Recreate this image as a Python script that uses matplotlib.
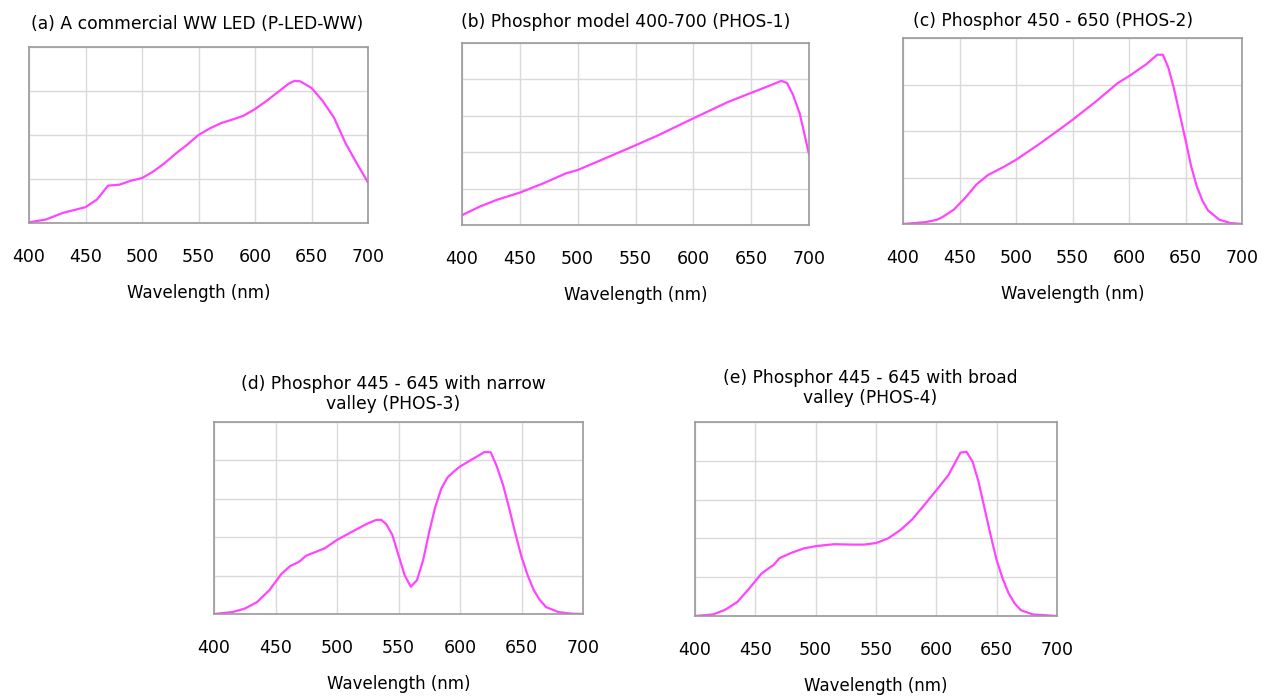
import matplotlib
matplotlib.use("Agg")
import matplotlib.pyplot as plt

# ── 데이터 ──
wl_a = [400, 415, 430, 450, 460, 470, 480, 490, 500, 510, 520, 530, 540, 550,
        560, 570, 580, 590, 600, 610, 620, 630, 635, 640, 650, 660, 670, 680, 690, 700]
sp_a = [0.015, 0.08, 0.23, 0.36, 0.53, 0.85, 0.87, 0.96, 1.02, 1.17, 1.36, 1.58, 1.78, 2.0,
        2.15, 2.27, 2.35, 2.44, 2.59, 2.77, 2.97, 3.17, 3.23, 3.22, 3.07, 2.77, 2.39, 1.82, 1.36, 0.92]

wl_b = [400, 415, 430, 450, 470, 490, 500, 520, 550, 570, 600, 630, 650, 670, 676, 681, 686, 692, 700]
sp_b = [0.27, 0.50, 0.69, 0.89, 1.14, 1.42, 1.51, 1.78, 2.19, 2.47, 2.93, 3.38, 3.63, 3.88, 3.96, 3.90, 3.59, 3.06, 1.95]

wl_c = [400, 420, 430, 435, 445, 455, 465, 475, 490, 500, 520, 540, 550, 570, 590, 600, 615,
        625, 630, 635, 640, 645, 650, 655, 660, 665, 670, 680, 690, 700]
sp_c = [0.0, 0.04, 0.09, 0.15, 0.31, 0.56, 0.85, 1.05, 1.24, 1.38, 1.71, 2.06, 2.24, 2.62, 3.03, 3.18, 3.43,
        3.64, 3.64, 3.35, 2.89, 2.35, 1.81, 1.24, 0.81, 0.50, 0.29, 0.09, 0.02, 0.0]

wl_d = [400, 415, 425, 435, 445, 455, 462, 468, 470, 475, 490, 500, 515, 525, 532, 536, 540, 545,
        550, 555, 560, 565, 570, 575, 580, 585, 590, 595, 600, 610, 620, 625, 630, 635, 640, 645,
        650, 655, 660, 665, 670, 680, 690, 700]
sp_d = [0.0, 0.05, 0.14, 0.31, 0.62, 1.05, 1.25, 1.34, 1.38, 1.52, 1.71, 1.93, 2.19, 2.36, 2.45, 2.45, 2.34, 2.06,
        1.53, 1.01, 0.71, 0.88, 1.40, 2.14, 2.80, 3.28, 3.56, 3.71, 3.84, 4.03, 4.22, 4.21, 3.84, 3.36, 2.75, 2.10,
        1.49, 1.01, 0.62, 0.36, 0.18, 0.05, 0.01, 0.0]

wl_e = [400, 415, 425, 435, 445, 455, 462, 465, 470, 480, 490, 500, 515, 530, 540, 550, 560, 570,
        580, 590, 600, 610, 620, 625, 630, 635, 640, 645, 650, 655, 660, 665, 670, 680, 700]
sp_e = [0.0, 0.04, 0.16, 0.36, 0.71, 1.09, 1.25, 1.31, 1.49, 1.63, 1.74, 1.80, 1.85, 1.84, 1.84, 1.88, 2.00, 2.21,
        2.49, 2.86, 3.24, 3.63, 4.21, 4.23, 3.98, 3.46, 2.77, 2.08, 1.44, 0.96, 0.58, 0.32, 0.15, 0.04, 0.0]

x_ticks = [400, 450, 500, 550, 600, 650, 700]

titles = [
    "(a) A commercial WW LED (P-LED-WW)",
    "(b) Phosphor model 400-700 (PHOS-1)",
    "(c) Phosphor 450 - 650 (PHOS-2)",
    "(d) Phosphor 445 - 645 with narrow\nvalley (PHOS-3)",
    "(e) Phosphor 445 - 645 with broad\nvalley (PHOS-4)",
]

W, H = 1270, 696
LINE = "#ff45ff"

# 축 위치 (픽셀: left, top, right, bottom), y 눈금 개수, 제목 중심
panels = [
    (wl_a, sp_a, (29, 47, 368, 223), 4, (197, 24)),
    (wl_b, sp_b, (462, 43, 809, 225), 5, (626, 22)),
    (wl_c, sp_c, (903, 38, 1242, 224), 4, (1053, 21)),
    (wl_d, sp_d, (214, 422, 583, 614), 5, (393, 394)),
    (wl_e, sp_e, (695, 422, 1057, 616), 5, (870, 388)),
]

fig = plt.figure(figsize=(W / 100, H / 100), dpi=100)
fig.patch.set_facecolor("white")

for (wl, sp, (l, t, r, b), ny, (tx, ty)), title in zip(panels, titles):
    ax = fig.add_axes([l / W, 1 - b / H, (r - l) / W, (b - t) / H])
    ax.plot(wl, sp, color=LINE, linewidth=1.6)
    ax.set_xlim(400, 700)
    ax.set_ylim(0, ny)
    ax.set_xticks(x_ticks)
    ax.set_yticks(range(ny + 1))
    ax.set_yticklabels([])
    ax.grid(True, color="#dadada", linewidth=1.0)
    ax.set_axisbelow(True)
    ax.tick_params(length=0, axis="both")
    ax.tick_params(axis="x", labelsize=12.5, pad=18)
    for s in ax.spines.values():
        s.set_color("#9a9a9a")
        s.set_linewidth(1.2)
    ax.set_xlabel("Wavelength (nm)", fontsize=12, labelpad=13)
    fig.text(tx / W, 1 - ty / H, title, ha="center", va="center",
             fontsize=12.3, linespacing=1.2)

fig.savefig("out.png", dpi=100, facecolor="white")
